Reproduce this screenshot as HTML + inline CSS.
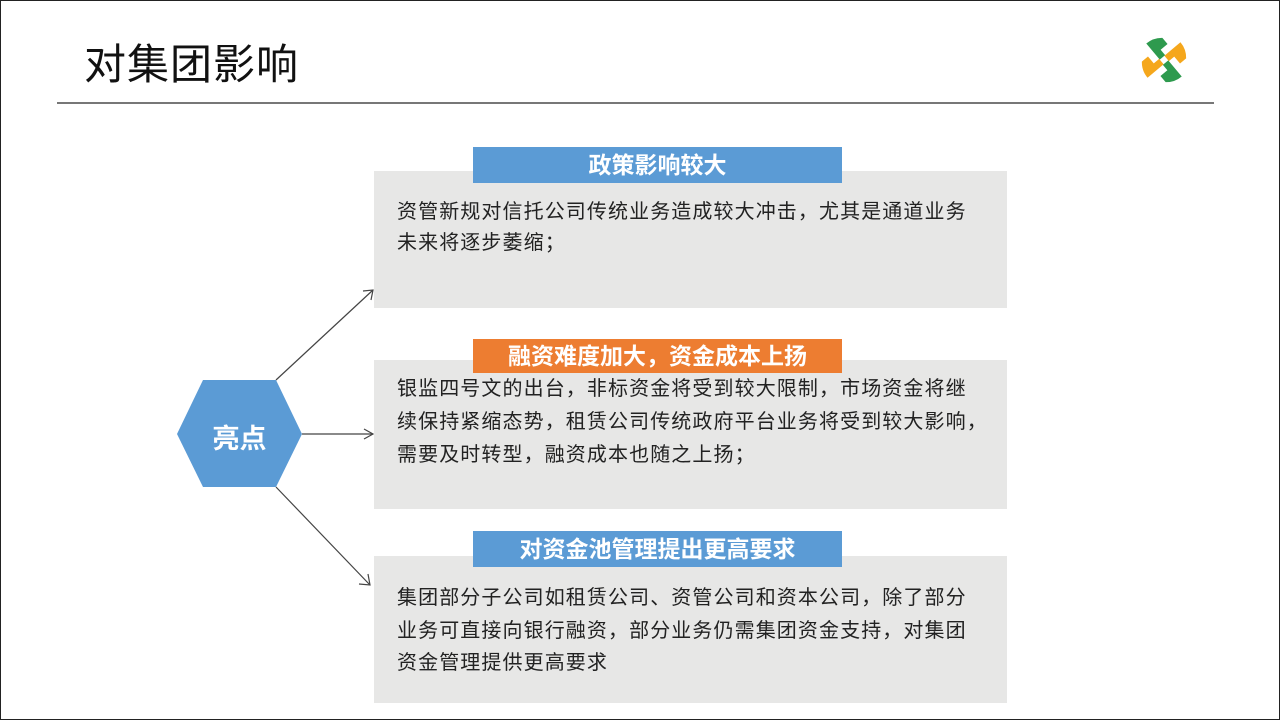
<!DOCTYPE html>
<html><head><meta charset="utf-8"><style>
body{margin:0;width:1280px;height:720px;overflow:hidden;background:#fff;font-family:"Liberation Sans","Noto Sans CJK SC",sans-serif;}
.pg{position:absolute;left:0;top:0;width:1278px;height:718px;border:1px solid #222;}
.abs{position:absolute;}
.box{position:absolute;left:374px;width:633px;background:#e7e7e6;}
.hd{position:absolute;left:473px;width:369px;color:#fff;font-weight:bold;font-size:23px;text-align:center;}
.tx{position:absolute;left:397px;width:620px;font-size:20px;color:#222;white-space:nowrap;letter-spacing:1.1px;}
</style></head><body>
<div class="pg"></div>
<div class="abs" style="left:84px;top:38px;font-size:42px;color:#111;line-height:54px;letter-spacing:1px;">对集团影响</div>
<div class="abs" style="left:57px;top:102px;width:1157px;height:2px;background:#777;"></div>
<svg class="abs" style="left:0;top:0" width="1280" height="720">
<g transform="translate(1164,60) rotate(-40)">
<path d="M-3,-3 L-3,-24 A24,24 0 0 1 13,-18 L13,-10 L4,-10 L4,-3 Z" fill="#2e9a4e"/>
<path d="M3,-3 L24,-3 A24,24 0 0 1 18,13 L10,13 L10,4 L3,4 Z" fill="#f5a71c"/>
<path d="M3,3 L3,24 A24,24 0 0 1 -13,18 L-13,10 L-4,10 L-4,3 Z" fill="#2e9a4e"/>
<path d="M-3,3 L-24,3 A24,24 0 0 1 -18,-13 L-10,-13 L-10,-4 L-3,-4 Z" fill="#f5a71c"/>
</g>
<polygon points="177,434 203,380 276,380 302,434 276,487 203,487" fill="#5b9bd5"/>
<g stroke="#444" stroke-width="1.2" fill="none">
<line x1="276" y1="380" x2="373" y2="290"/><polyline points="363,291 373,290 371,300"/>
<line x1="302" y1="434" x2="373" y2="434"/><polyline points="364,429 373,434 364,439"/>
<line x1="276" y1="487" x2="370" y2="585"/><polyline points="359,584 370,585 368,574"/>
</g>
</svg>
<div class="abs" style="left:177px;top:417px;width:125px;text-align:center;color:#fff;font-weight:bold;font-size:27px;">亮点</div>
<div class="box" style="top:171px;height:137px"></div>
<div class="hd" style="top:147px;height:36px;line-height:36px;background:#5b9bd5">政策影响较大</div>
<div class="tx" style="top:197px;line-height:31px">资管新规对信托公司传统业务造成较大冲击，尤其是通道业务<br>未来将逐步萎缩；</div>
<div class="box" style="top:360px;height:149px"></div>
<div class="hd" style="top:339px;height:34px;line-height:34px;background:#ed7d31">融资难度加大，资金成本上扬</div>
<div class="tx" style="top:373px;line-height:33px">银监四号文的出台，非标资金将受到较大限制，市场资金将继<br>续保持紧缩态势，租赁公司传统政府平台业务将受到较大影响，<br>需要及时转型，融资成本也随之上扬；</div>
<div class="box" style="top:556px;height:147px"></div>
<div class="hd" style="top:531px;height:36px;line-height:36px;background:#5b9bd5">对资金池管理提出更高要求</div>
<div class="tx" style="top:582px;line-height:32.5px">集团部分子公司如租赁公司、资管公司和资本公司，除了部分<br>业务可直接向银行融资，部分业务仍需集团资金支持，对集团<br>资金管理提供更高要求</div>
</body></html>
